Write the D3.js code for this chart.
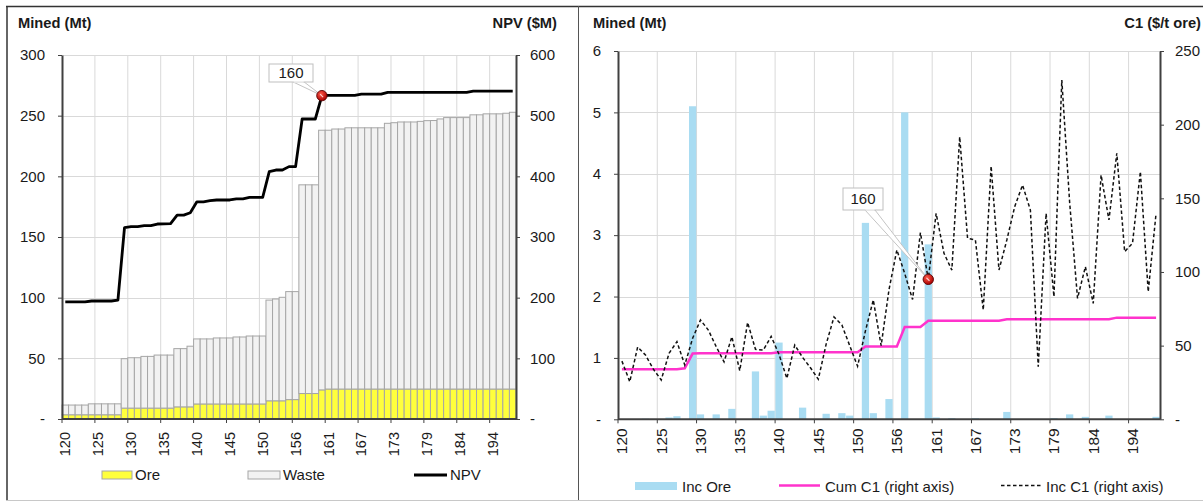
<!DOCTYPE html>
<html>
<head>
<meta charset="utf-8">
<script src="https://cdnjs.cloudflare.com/ajax/libs/d3/7.8.5/d3.min.js"></script>
<style>
  body { margin: 0; background: #fff; }
  svg { display: block; font-family: "Liberation Sans", Arial, sans-serif; }
</style>
</head>
<body>
<div id="chart"></div>
<script>
// DATA
// Category labels (only every 5th one is shown on the axis)
const categories = [
  "120","121","122","123","124","125","126","127","128","129",
  "130","131","132","133","134","135","136","137","138","139",
  "140","141","142","143","144","145","146","147","148","149",
  "150","151","152","154","155","156","157","158","159","160",
  "161","162","163","165","166","167","168","169","171","172",
  "173","174","176","177","178","179","180","181","182","183",
  "184","186","188","190","192","194","195","197","199"
]
// Left chart: cumulative ore / waste mined (Mt) and NPV ($M)
const ore = [
  3.5,3.5,3.5,3.5,3.5,3.5,3.5,3.5,3.5,
  9,9,9,9,9,9,9,9,
  10,10,10,
  12.4,12.4,12.4,12.4,12.4,12.4,12.4,12.4,12.4,12.4,12.4,
  15,15,15,16,16,
  21,21,21,24,
  24.7,24.7,24.7,24.7,24.7,24.7,24.7,24.7,24.7,24.7,
  24.7,24.7,24.7,24.7,24.7,24.7,24.7,24.7,24.7,24.7,
  24.7,24.7,24.7,24.7,24.7,24.7,24.7,24.7,24.7
]
const waste = [
  8,8,8,8,9,9,9,9,9,
  40.7,41.5,41.5,42.6,42.6,43.7,43.7,43.7,
  48,48,50,
  53.6,53.6,53.6,54.4,54.4,54.4,55.2,55.2,56,56,56,
  83,83.9,85.3,89,89,
  172,172,172,214,
  213.3,214.3,214.3,215.3,215.3,215.3,215.3,215.3,215.3,
  219,219.5,220.1,220.1,220.1,220.6,221.2,221.3,222.6,223.7,223.7,223.7,223.7,
  226,226,226.8,226.8,226.8,227.3,228.1
]
const npv = [
  193,193,193,193,194.5,194.5,194.5,194.5,196,
  315.4,317,317,318.7,318.7,321.4,321.6,322,
  336,336,340,
  358,358,359.8,361,361,361,363,363,365.3,365.3,365.3,
  407.7,410.4,410.4,416,416,
  494.5,494.5,494.5,533,
  533.5,533.5,533.5,533.5,533.5,535.5,535.5,535.5,535.5,
  538.5,538.5,538.5,538.5,538.5,538.5,538.5,538.5,538.5,538.5,538.5,538.5,538.5,
  540.5,540.5,540.5,540.5,540.5,540.5,540.5
]
// Right chart: incremental ore (Mt), cumulative and incremental C1 ($/t ore)
const incOre = [
  0,0,0,0.01,0,0,0.03,0.05,0,5.1,
  0.08,0,0.08,0,0.17,0,0,0.78,0.06,0.14,
  1.25,0,0,0.19,0,0,0.09,0,0.1,0.06,
  0,3.2,0.1,0,0.33,0,5.0,0,0,2.85,
  0.03,0,0.02,0,0,0.02,0,0,0,0.12,
  0,0,0,0,0,0.02,0,0.08,0,0.04,
  0,0,0.06,0,0,0,0,0,0.04
]
const cumC1 = [
  34,34,34,34,34,34,34,34,34.6,44.6,
  44.8,44.8,44.8,44.8,44.8,44.8,44.8,44.8,44.8,44.8,
  45.5,45.5,45.5,45.5,45.5,45.5,45.5,45.5,45.5,45.5,
  45.5,49.4,49.4,49.4,49.4,49.4,62.7,62.7,62.7,66.9,
  66.9,66.9,66.9,66.9,66.9,66.9,66.9,66.9,66.9,67.9,
  67.9,67.9,67.9,67.9,67.9,67.9,67.9,67.9,67.9,67.9,
  67.9,67.9,67.9,69,69,69,69,69,69
]
const incC1 = [
  39.5,25.5,49,43.6,34,26.7,44.8,52.7,36.9,55,
  67.4,60.6,49.3,39,56,33,65.7,47.5,47,56.3,
  44,27.8,50.4,42,35,27.2,51,69.5,64,50,
  36,60,81,50,88,115,99,81.3,126.7,95,
  139.8,112.7,101.3,191.8,122.9,121.7,74.2,171.9,101.3,121.7,
  144.3,159,142,35.7,139.8,83.2,230.3,147,82.1,103.6,
  78.7,165.8,135.3,180.6,113.8,119.5,168.1,86.6,139.8
]
// Highlighted shell
const markCat = "160"

// Colours
const oreFill = "#ffff3c"
const wasteFill = "#f2f2f2"
const barStroke = "#a6a6a6"
const incOreFill = "#a9dcf2"
const cumColour = "#ff33cc"
const gridColour = "#d9d9d9"
const axisColour = "#404040"
const textColour = "#1a1a1a"

const W = 1203, H = 502
const svg = d3.select("#chart").append("svg").attr("width", W).attr("height", H)

// red marker gradient
const grad = svg.append("defs").append("radialGradient").attr("id", "dot").attr("cx", "40%").attr("cy", "35%").attr("r", "65%")
grad.append("stop").attr("offset", "0%").attr("stop-color", "#ff5a4a")
grad.append("stop").attr("offset", "100%").attr("stop-color", "#a80000")

// PANEL FRAMES
svg.append("line").attr("x1", 6).attr("x2", W).attr("y1", 6.5).attr("y2", 6.5).attr("stroke", "#333").attr("stroke-width", 1.5)
svg.append("line").attr("x1", 7).attr("x2", 7).attr("y1", 6).attr("y2", 500).attr("stroke", "#333").attr("stroke-width", 1.5)
svg.append("line").attr("x1", 578.5).attr("x2", 578.5).attr("y1", 6).attr("y2", 500).attr("stroke", "#555").attr("stroke-width", 1)
svg.append("line").attr("x1", 6).attr("x2", W).attr("y1", 500.5).attr("y2", 500.5).attr("stroke", "#c8c8c8").attr("stroke-width", 1)

const markIdx = categories.indexOf(markCat)
const zeroDash = (fmt) => d => d === 0 ? "-" : fmt(d)

// draws grids, y axes and the category axis of one panel
function drawFrame(p) {
  const g = svg.append("g")
  // horizontal gridlines
  g.selectAll(".hgrid").data(p.yL.ticks(p.yTicks).filter(d => d > 0)).enter().append("line")
    .attr("x1", p.x0).attr("x2", p.x1)
    .attr("y1", d => Math.round(p.yL(d)) + 0.5).attr("y2", d => Math.round(p.yL(d)) + 0.5)
    .attr("stroke", gridColour)
  // vertical gridlines every 5 categories
  const bounds = categories.map((c, i) => i).filter(i => i % 5 === 0)
  g.selectAll(".vgrid").data(bounds.filter(i => i > 0)).enter().append("line")
    .attr("x1", i => p.x(categories[i])).attr("x2", i => p.x(categories[i]))
    .attr("y1", p.yL.range()[1]).attr("y2", p.yL.range()[0])
    .attr("stroke", gridColour)
  return { g, bounds }
}

function drawAxes(p, bounds) {
  const g = svg.append("g")
  const yl = g.append("g").attr("transform", `translate(${p.x0},0)`)
    .call(d3.axisLeft(p.yL).ticks(p.yTicks).tickSize(4).tickSizeOuter(0).tickPadding(13).tickFormat(zeroDash(d3.format("d"))))
  const yr = g.append("g").attr("transform", `translate(${p.x1},0)`)
    .call(d3.axisRight(p.yR).ticks(p.yRTicks).tickSize(4).tickSizeOuter(0).tickPadding(p.rPad).tickFormat(zeroDash(d3.format("d"))))
  ;[yl, yr].forEach(a => {
    a.select(".domain").attr("stroke", axisColour).attr("stroke-width", 2)
    a.selectAll(".tick line").attr("stroke", axisColour)
    a.selectAll("text").attr("font-size", "15px").attr("fill", textColour).attr("font-family", "Liberation Sans, Arial, sans-serif")
  })
  // category axis
  const y0 = p.yL(0)
  g.append("line").attr("x1", p.x0).attr("x2", p.x1).attr("y1", y0).attr("y2", y0).attr("stroke", axisColour).attr("stroke-width", 2)
  g.selectAll(".xtick").data(bounds).enter().append("line")
    .attr("x1", i => p.x(categories[i])).attr("x2", i => p.x(categories[i]))
    .attr("y1", y0).attr("y2", y0 + 4).attr("stroke", axisColour)
  g.selectAll(".xlab").data(bounds).enter().append("text")
    .attr("transform", i => `translate(${p.x(categories[i]) + p.x.bandwidth() / 2},${y0 + p.xLabOff}) rotate(-90)`)
    .attr("text-anchor", "end").attr("dy", "0.35em")
    .attr("font-size", p.xFont).attr("fill", textColour)
    .text(i => categories[i])
}

function drawTitle(x, y, txt, anchor) {
  svg.append("text").attr("x", x).attr("y", y).attr("text-anchor", anchor)
    .attr("font-size", "14.7px").attr("font-weight", "bold").attr("fill", textColour).text(txt)
}

function callout(bx, by, bw, bh, tx, ty, label) {
  const g = svg.append("g")
  g.append("polygon")
    .attr("points", `${bx + bw * 0.55},${by + bh} ${bx + bw * 0.8},${by + bh} ${tx},${ty}`)
    .attr("fill", "#fff").attr("stroke", "#c4c4c4")
  g.append("rect").attr("x", bx).attr("y", by).attr("width", bw).attr("height", bh)
    .attr("fill", "#fff").attr("stroke", "#bfbfbf")
  g.append("line").attr("x1", bx + bw * 0.55 + 0.5).attr("x2", bx + bw * 0.8 - 0.5).attr("y1", by + bh).attr("y2", by + bh).attr("stroke", "#fff")
  g.append("text").attr("x", bx + bw / 2).attr("y", by + bh / 2).attr("dy", "0.36em").attr("text-anchor", "middle")
    .attr("font-size", "15px").attr("fill", textColour).text(label)
}

function dot(cx, cy) {
  svg.append("circle").attr("cx", cx).attr("cy", cy).attr("r", 5.2)
    .attr("fill", "url(#dot)").attr("stroke", "#5a0000").attr("stroke-width", 0.9)
  svg.append("line").attr("x1", cx - 1.8).attr("y1", cy - 1.5).attr("x2", cx + 1.2).attr("y2", cy + 1.4)
    .attr("stroke", "#ffd0d0").attr("stroke-width", 1.1)
}

// LEFT CHART
const L = {
  x0: 62, x1: 516,
  x: d3.scaleBand().domain(categories).range([62, 516]).padding(0),
  yL: d3.scaleLinear().domain([0, 300]).range([419, 55]),
  yR: d3.scaleLinear().domain([0, 600]).range([419, 55]),
  yTicks: 6, yRTicks: 6, rPad: 10, xLabOff: 13, xFont: "14.5px"
}
const lf = drawFrame(L)
const rows = categories.map((c, i) => ({ cat: c, ore: ore[i], waste: waste[i] }))
const stacked = d3.stack().keys(["ore", "waste"])(rows)
svg.append("g").selectAll("g").data(stacked).enter().append("g")
  .attr("fill", s => s.key === "ore" ? oreFill : wasteFill)
  .selectAll("rect").data(s => s).enter().append("rect")
  .attr("x", d => L.x(d.data.cat))
  .attr("width", L.x.bandwidth())
  .attr("y", d => L.yL(d[1]))
  .attr("height", d => L.yL(d[0]) - L.yL(d[1]))
  .attr("stroke", barStroke).attr("stroke-width", 1)
const lineL = d3.line().x((d, i) => L.x(categories[i]) + L.x.bandwidth() / 2).y(d => L.yR(d))
svg.append("path").attr("d", lineL(npv)).attr("fill", "none").attr("stroke", "#000").attr("stroke-width", 2.8).attr("stroke-linejoin", "round")
drawAxes(L, lf.bounds)
drawTitle(18, 28, "Mined (Mt)", "start")
drawTitle(557, 28, "NPV ($M)", "end")
{
  const cx = L.x(markCat) + L.x.bandwidth() / 2, cy = L.yR(npv[markIdx])
  callout(269, 64, 44, 18, cx, cy, markCat)
  dot(cx, cy)
}
// legend
{
  const lg = svg.append("g").attr("font-size", "15px").attr("fill", textColour)
  lg.append("rect").attr("x", 102).attr("y", 471).attr("width", 30).attr("height", 8).attr("fill", oreFill).attr("stroke", barStroke)
  lg.append("text").attr("x", 135).attr("y", 480).text("Ore")
  lg.append("rect").attr("x", 248).attr("y", 471).attr("width", 32).attr("height", 8).attr("fill", wasteFill).attr("stroke", barStroke)
  lg.append("text").attr("x", 283).attr("y", 480).text("Waste")
  lg.append("line").attr("x1", 414).attr("x2", 447).attr("y1", 475).attr("y2", 475).attr("stroke", "#000").attr("stroke-width", 2.8)
  lg.append("text").attr("x", 450).attr("y", 480).text("NPV")
}

// RIGHT CHART
const R = {
  x0: 618, x1: 1160,
  x: d3.scaleBand().domain(categories).range([618, 1160]).padding(0),
  yL: d3.scaleLinear().domain([0, 6]).range([419.3, 51]),
  yR: d3.scaleLinear().domain([0, 250]).range([419.3, 51]),
  yTicks: 6, yRTicks: 5, rPad: 11, xLabOff: 9, xFont: "15.5px"
}
const rf = drawFrame(R)
svg.append("g").selectAll("rect").data(incOre).enter().append("rect")
  .attr("x", (d, i) => R.x(categories[i]) + 0.3)
  .attr("width", R.x.bandwidth() - 0.6)
  .attr("y", d => R.yL(d))
  .attr("height", d => R.yL(0) - R.yL(d))
  .attr("fill", incOreFill)
const lineR = d3.line().x((d, i) => R.x(categories[i]) + R.x.bandwidth() / 2).y(d => R.yR(d))
svg.append("path").attr("d", lineR(cumC1)).attr("fill", "none").attr("stroke", cumColour).attr("stroke-width", 2.5)
svg.append("path").attr("d", lineR(incC1)).attr("fill", "none").attr("stroke", "#111").attr("stroke-width", 1.5).attr("stroke-dasharray", "3.5,2.5")
drawAxes(R, rf.bounds)
drawTitle(593, 28, "Mined (Mt)", "start")
drawTitle(1201, 28, "C1 ($/t ore)", "end")
{
  const cx = R.x(markCat) + R.x.bandwidth() / 2, cy = R.yR(incC1[markIdx])
  callout(843, 188, 40, 22, cx, cy, markCat)
  dot(cx, cy)
}
// legend
{
  const lg = svg.append("g").attr("font-size", "15px").attr("fill", textColour)
  lg.append("rect").attr("x", 635).attr("y", 482).attr("width", 42).attr("height", 8).attr("fill", incOreFill)
  lg.append("text").attr("x", 682).attr("y", 491.5).text("Inc Ore")
  lg.append("line").attr("x1", 779).attr("x2", 820).attr("y1", 485.5).attr("y2", 485.5).attr("stroke", cumColour).attr("stroke-width", 2.5)
  lg.append("text").attr("x", 825).attr("y", 491.5).text("Cum C1 (right axis)")
  lg.append("line").attr("x1", 1001).attr("x2", 1043).attr("y1", 485.5).attr("y2", 485.5).attr("stroke", "#111").attr("stroke-width", 1.5).attr("stroke-dasharray", "3.5,2.5")
  lg.append("text").attr("x", 1046).attr("y", 491.5).text("Inc C1 (right axis)")
}
</script>
</body>
</html>
